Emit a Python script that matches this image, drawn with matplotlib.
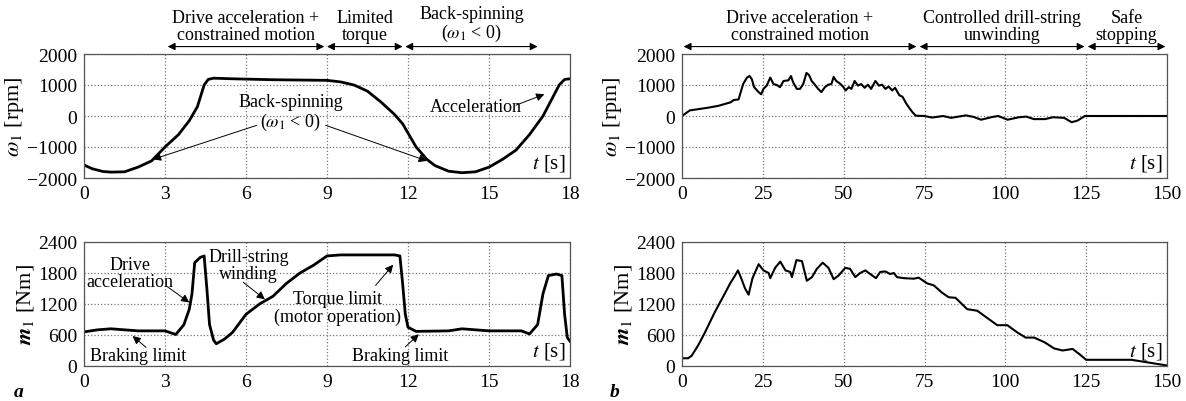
import matplotlib
matplotlib.use("Agg")
import matplotlib.pyplot as plt
import matplotlib.transforms as mtransforms

plt.rcParams['font.family'] = ['Liberation Serif', 'DejaVu Serif']
plt.rcParams['mathtext.fontset'] = 'stix'

# ---------------- data: panel a ----------------
ta_w = [0, 0.3, 0.7, 1.0, 1.5, 2.0, 2.5, 3.0, 3.5, 3.9, 4.2, 4.45, 4.6, 4.8, 5.5, 7.0, 9.0,
        9.5, 10.0, 10.5, 11.0, 11.5, 11.8, 12.0, 12.3, 12.7, 13.0, 13.5, 14.0, 14.5, 15.0,
        15.5, 16.0, 16.5, 17.0, 17.3, 17.6, 17.8, 18.0]
wa = [-1580, -1700, -1790, -1810, -1800, -1650, -1450, -1000, -600, -150, 300, 1000, 1180,
      1220, 1200, 1170, 1150, 1100, 1000, 800, 450, 50, -250, -550, -1000, -1400, -1600,
      -1780, -1830, -1800, -1650, -1400, -1100, -600, 0, 500, 1000, 1180, 1200]

ta_m = [0, 0.5, 1.0, 1.5, 2.0, 3.0, 3.4, 3.7, 3.9, 4.0, 4.1, 4.3, 4.45, 4.55, 4.65, 4.8, 4.9,
        5.2, 5.5, 6.0, 6.5, 7.0, 7.5, 8.0, 8.5, 9.0, 9.5, 11.5, 11.7, 11.8, 11.9, 12.0, 12.3,
        13.5, 14.0, 15.0, 16.2, 16.5, 16.8, 17.0, 17.2, 17.5, 17.7, 17.8, 17.9, 18.0]
ma = [660, 700, 720, 700, 680, 680, 610, 800, 1100, 1400, 2000, 2100, 2130, 1500, 800, 500,
      430, 520, 650, 1000, 1200, 1350, 1600, 1800, 1950, 2130, 2150, 2150, 2130, 1600, 1000,
      750, 670, 680, 720, 680, 680, 620, 800, 1400, 1750, 1780, 1750, 1000, 550, 480]

# ---------------- data: panel b ----------------
tb_w = [0, 2.4, 5, 8.2, 11.3, 15.0, 16.0, 17.5, 18.9, 20.1, 20.9, 21.6, 22.3, 23.7, 24.5,
        25.2, 26.2, 27.3, 28.3, 29.3, 30.3, 31.4, 32.9, 33.7, 34.4, 35.5, 36.5, 37.5, 38.5,
        39.3, 40.1, 41.1, 42.1, 43.1, 44.2, 45.2, 46.2, 46.9, 47.7, 48.8, 49.8, 50.6, 51.6,
        52.4, 53.4, 54.4, 55.4, 56.5, 57.5, 58.5, 59.8, 60.9, 61.9, 62.9, 63.9, 65.0, 65.9,
        67.2, 68.2, 69.3, 70.3, 71.3, 72.3, 75.0, 77.3, 80.8, 83.2, 85.5, 87.8, 90.2, 92.5,
        96.0, 97.8, 100.7, 104.2, 106.5, 108.8, 112.3, 114.7, 118.2, 120.5, 122.3, 124.6, 150]
wb = [0, 180, 220, 270, 330, 440, 515, 535, 1030, 1240, 1290, 1185, 930, 770, 700, 875, 980,
      1240, 1030, 1000, 930, 1130, 1150, 1290, 1080, 875, 875, 1030, 1390, 1320, 1130, 1010,
      875, 770, 930, 1010, 1030, 1260, 1130, 1050, 950, 825, 930, 875, 1130, 980, 1030, 910,
      1010, 875, 1130, 980, 1010, 875, 950, 825, 910, 670, 620, 410, 260, 120, 10, 0, -50, 0,
      -60, -20, 20, -30, -120, -30, 0, -120, -40, -20, -100, -100, -40, -60, -200, -150, 0, 0]

tb_m = [0, 1.9, 3, 5, 7.1, 10.2, 12.8, 14.9, 16.4, 17.3, 18.3, 19.5, 20.6, 21.8, 23.7, 25.2,
        26.8, 27.3, 28.8, 30.4, 32.0, 33.5, 34.0, 35.4, 37.1, 38.6, 40.2, 41.7, 43.5, 45.3,
        46.9, 48.4, 50.5, 52.0, 53.6, 55.1, 56.7, 58.2, 60.0, 61.3, 62.9, 64.4, 65.5, 66.5,
        68.6, 71.7, 73.2, 75.8, 77.9, 80.4, 82.5, 84.6, 88.2, 91.3, 94.4, 97.5, 100.6, 103.7,
        106.3, 108.9, 112.1, 115.1, 117.7, 120.8, 122.9, 125.0, 139.0, 143.0, 147.0, 150.0]
mb = [150, 150, 200, 400, 650, 1050, 1350, 1600, 1750, 1850, 1700, 1500, 1380, 1700, 1970,
      1850, 1800, 1700, 1900, 2020, 1850, 1820, 1720, 2050, 2030, 1650, 1720, 1880, 2000,
      1900, 1680, 1750, 1900, 1880, 1720, 1800, 1850, 1780, 1700, 1820, 1830, 1780, 1800,
      1720, 1700, 1690, 1710, 1600, 1560, 1420, 1330, 1320, 1100, 1070, 930, 790, 790, 650,
      550, 550, 460, 340, 300, 330, 230, 120, 120, 80, 40, 10]

xticks_a = [0, 3, 6, 9, 12, 15, 18]
xticks_b = [0, 25, 50, 75, 100, 125, 150]
yticks_w = [-2000, -1000, 0, 1000, 2000]
yticks_m = [0, 600, 1200, 1800, 2400]

fig = plt.figure(figsize=(11.86, 4.02), dpi=100)
W, H = 1186, 402


def make_ax(x0, x1, y0, y1):
    return fig.add_axes([x0 / W, 1 - y1 / H, (x1 - x0) / W, (y1 - y0) / H])


ax1 = make_ax(84, 570, 55, 179)
ax2 = make_ax(84, 570, 243, 367)
ax3 = make_ax(682, 1167, 55, 179)
ax4 = make_ax(682, 1167, 243, 367)

FS = 14
for ax in (ax1, ax2, ax3, ax4):
    ax.grid(True, color='#777777', linestyle=':', linewidth=0.9)
    ax.tick_params(length=0, labelsize=FS, pad=5)
    for s in ax.spines.values():
        s.set_color('#555555')
        s.set_linewidth(0.9)
    ax.text(0.99, 0.04, r'$t$ [s]', transform=ax.transAxes, ha='right', va='bottom',
            fontsize=FS + 1)

ax1.plot(ta_w, wa, color='black', lw=2.0)
ax2.plot(ta_m, ma, color='black', lw=2.0)
ax3.plot(tb_w, wb, color='black', lw=1.5)
ax4.plot(tb_m, mb, color='black', lw=1.5)

for ax in (ax1, ax2):
    ax.set_xlim(0, 18)
    ax.set_xticks(xticks_a)
for ax in (ax3, ax4):
    ax.set_xlim(0, 150)
    ax.set_xticks(xticks_b)
for ax in (ax1, ax3):
    ax.set_ylim(-2000, 2000)
    ax.set_yticks(yticks_w)
    ax.set_ylabel(r'$\omega_{\mathrm{1}}$ [rpm]', fontsize=FS + 2, labelpad=1)
for ax in (ax2, ax4):
    ax.set_ylim(0, 2400)
    ax.set_yticks(yticks_m)
    ax.set_ylabel(r'$\mathbfit{m}_{\mathrm{1}}$ [Nm]', fontsize=FS + 2, labelpad=1)

# ---------- phase arrows above top panels ----------
AFS = 13
dbl = dict(arrowstyle='<|-|>', color='black', lw=0.8, mutation_scale=11,
           shrinkA=0, shrinkB=0)
one = dict(arrowstyle='-|>', color='black', lw=0.7, mutation_scale=12,
           shrinkA=0, shrinkB=0)


def phases(ax, spans, labels):
    tr = mtransforms.blended_transform_factory(ax.transData, ax.transAxes)
    for (a, b), lab in zip(spans, labels):
        ax.annotate('', xy=(b, 1.06), xytext=(a, 1.06), xycoords=tr, textcoords=tr,
                    arrowprops=dbl, annotation_clip=False)
        ax.text((a + b) / 2, 1.09, lab, transform=tr, ha='center', va='bottom',
                fontsize=AFS, linespacing=1.0)


phases(ax1, [(3.1, 8.9), (9.0, 11.8), (11.9, 16.8)],
       ['Drive acceleration +\nconstrained motion', 'Limited\ntorque',
        'Back-spinning\n' + r'($\omega_{\mathrm{1}}$ < 0)'])
phases(ax3, [(0.5, 72.5), (73.5, 124.5), (125.5, 149.5)],
       ['Drive acceleration +\nconstrained motion', 'Controlled drill-string\nunwinding',
        'Safe\nstopping'])

# ---------- annotations inside panel a ----------
ax1.text(7.65, 100, 'Back-spinning\n' + r'($\omega_{\mathrm{1}}$ < 0)', ha='center',
         va='center', fontsize=AFS, linespacing=1.05)
ax1.annotate('', xy=(2.55, -1400), xytext=(6.4, -300), arrowprops=one)
ax1.annotate('', xy=(12.7, -1450), xytext=(8.95, -300), arrowprops=one)
ax1.text(14.5, 300, 'Acceleration', ha='center', va='center', fontsize=AFS)
ax1.annotate('', xy=(17.05, 700), xytext=(16.0, 350), arrowprops=one)

ax2.text(1.7, 1800, 'Drive\nacceleration', ha='center', va='center', fontsize=AFS,
         linespacing=1.0)
ax2.annotate('', xy=(3.9, 1230), xytext=(3.1, 1530), arrowprops=one)
ax2.text(6.1, 1960, 'Drill-string\nwinding', ha='center', va='center', fontsize=AFS,
         linespacing=1.0)
ax2.annotate('', xy=(6.7, 1290), xytext=(5.9, 1620), arrowprops=one)
ax2.text(9.4, 1130, 'Torque limit\n(motor operation)', ha='center', va='center',
         fontsize=AFS, linespacing=1.05)
ax2.annotate('', xy=(11.45, 1960), xytext=(10.8, 1560), arrowprops=one)
ax2.text(2.0, 210, 'Braking limit', ha='center', va='center', fontsize=AFS)
ax2.annotate('', xy=(1.8, 580), xytext=(2.3, 360), arrowprops=one)
ax2.text(11.7, 210, 'Braking limit', ha='center', va='center', fontsize=AFS)
ax2.annotate('', xy=(12.4, 615), xytext=(11.9, 370), arrowprops=one)

fig.text(14 / W, 1 - 393 / H, 'a', fontsize=FS, fontweight='bold', style='italic',
         ha='left', va='center')
fig.text(610 / W, 1 - 393 / H, 'b', fontsize=FS, fontweight='bold', style='italic',
         ha='left', va='center')

fig.savefig('out.png', dpi=100)
